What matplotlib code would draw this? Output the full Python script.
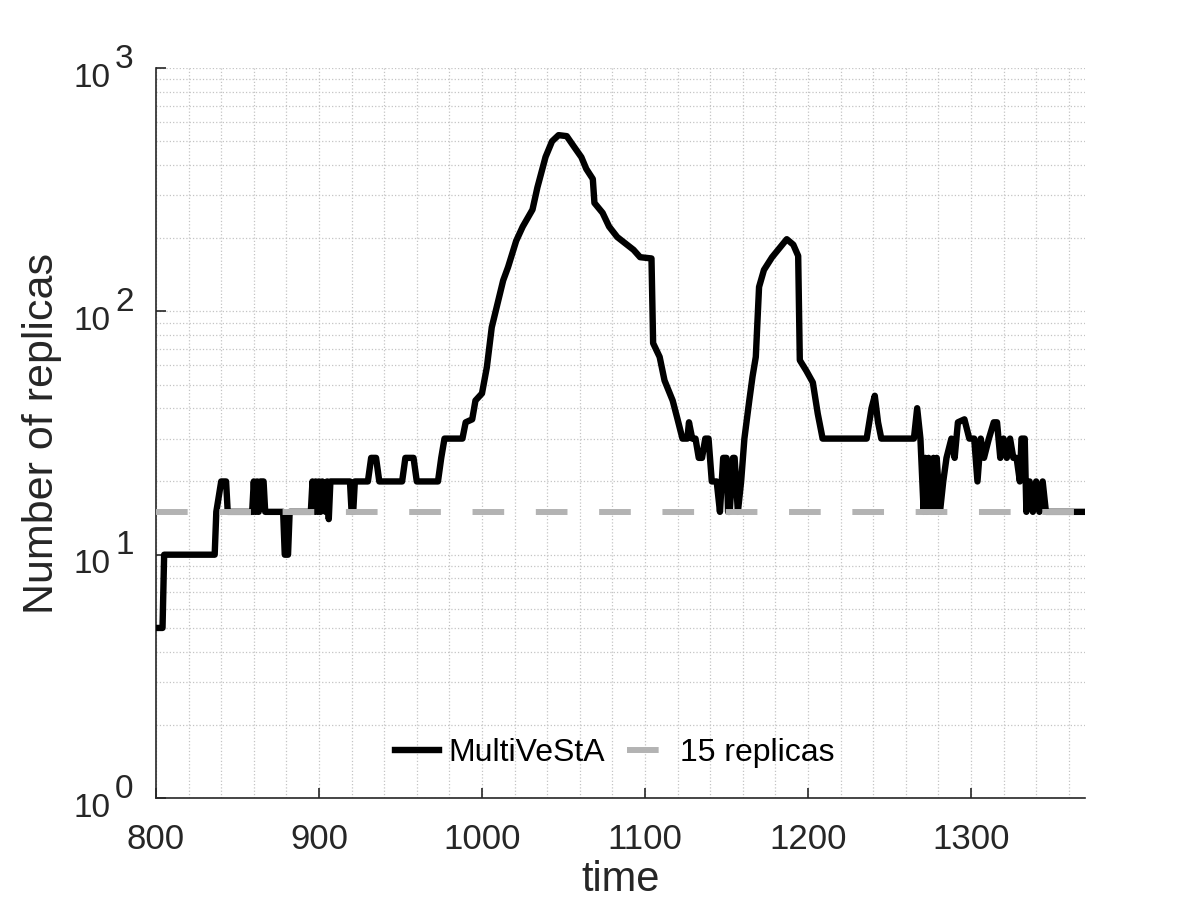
import numpy as np
import matplotlib
matplotlib.use("Agg")
import matplotlib.pyplot as plt
from matplotlib.ticker import MultipleLocator, LogLocator, NullFormatter
from matplotlib.transforms import offset_copy

plt.rcParams['font.family'] = ['Liberation Sans', 'DejaVu Sans']
text_col = '#262626'

# replicas used by MultiVeStA over time
time = [800, 804, 805, 836, 837, 840, 843, 844, 859, 860, 861, 862, 863, 864, 866, 867,
        878, 879, 881, 882, 895, 896, 897, 898, 899, 900, 901, 902, 904, 905, 906, 907,
        919, 920, 921, 922, 930, 932, 935, 937, 951, 953, 958, 960, 973, 975, 977, 988,
        990, 994, 996, 1000, 1003, 1006, 1009, 1013, 1016, 1021, 1025, 1031, 1034, 1039,
        1043, 1047, 1052, 1056, 1061, 1064, 1068, 1069, 1074, 1078, 1083, 1093, 1097, 1104,
        1105, 1109, 1112, 1117, 1120, 1123, 1126, 1127, 1129, 1131, 1133, 1135, 1137, 1139,
        1141, 1144, 1146, 1148, 1150, 1151, 1152, 1154, 1155, 1157, 1159, 1161, 1164, 1166,
        1168, 1170, 1173, 1178, 1187, 1191, 1194, 1195, 1199, 1203, 1206, 1209, 1236, 1239,
        1241, 1243, 1245, 1265, 1267, 1269, 1271, 1272, 1273, 1274, 1276, 1277, 1278, 1279,
        1281, 1283, 1285, 1288, 1290, 1292, 1296, 1299, 1302, 1304, 1306, 1308, 1311, 1314,
        1316, 1318, 1320, 1322, 1324, 1326, 1328, 1330, 1331, 1333, 1334, 1336, 1338, 1340,
        1342, 1344, 1346, 1370]
replicas = [5, 5, 10, 10, 15, 20, 20, 15, 15, 20, 15, 20, 15, 20, 20, 15,
            15, 10, 10, 15, 15, 20, 15, 20, 15, 20, 15, 20, 15, 20, 14, 20,
            20, 15, 15, 20, 20, 25, 25, 20, 20, 25, 25, 20, 20, 25, 30, 30,
            35, 36, 43, 46, 59, 86, 104, 134, 152, 195, 223, 262, 323, 431,
            500, 530, 525, 480, 430, 385, 350, 279, 254, 223, 202, 179, 167, 165,
            74, 65, 52, 43, 36, 30, 30, 35, 30, 30, 25, 25, 30, 30,
            20, 20, 15, 25, 25, 15, 15, 25, 25, 15, 20, 30, 43, 54,
            65, 126, 148, 167, 198, 188, 169, 63, 57, 51, 38, 30, 30, 40,
            45, 35, 30, 30, 40, 30, 15, 25, 15, 25, 15, 25, 15, 25,
            15, 20, 25, 30, 25, 35, 36, 30, 30, 20, 30, 25, 30, 35,
            35, 25, 30, 25, 30, 25, 25, 20, 30, 30, 15, 20, 15, 20,
            15, 20, 15, 15]
threshold = 15
x_range = [800, 1370]

fig = plt.figure(figsize=(12, 9), dpi=100)
ax = fig.add_axes([0.13, 0.1133, 0.7742, 0.8111])

ax.plot(time, replicas, color='black', linewidth=4.6, label='MultiVeStA', zorder=3)
ax.plot(x_range, [threshold, threshold], color='#b3b3b3', linewidth=4.3,
        linestyle=(0, (5.3, 5.3)), dash_capstyle='butt', label='15 replicas', zorder=4)

ax.set_yscale('log')
ax.set_xlim(x_range)
ax.set_ylim(1, 1000)
ax.xaxis.set_major_locator(MultipleLocator(100))
ax.xaxis.set_minor_locator(MultipleLocator(20))
ax.yaxis.set_major_locator(LogLocator(base=10, numticks=10))
ax.yaxis.set_minor_locator(LogLocator(base=10, subs=np.arange(2, 10), numticks=10))
ax.yaxis.set_major_formatter(NullFormatter())
ax.yaxis.set_minor_formatter(NullFormatter())

ax.grid(True, which='both', linestyle=':', linewidth=0.9, color='#c4c4c4')
ax.set_axisbelow(True)
for s in ['top', 'right']:
    ax.spines[s].set_visible(False)
for s in ['left', 'bottom']:
    ax.spines[s].set_color(text_col)
    ax.spines[s].set_linewidth(1.2)

ax.tick_params(which='major', direction='in', length=7, width=1.2, colors=text_col,
               labelsize=25, pad=18)
ax.tick_params(which='minor', length=0)
ax.tick_params(axis='y', which='major', pad=14)

# y tick labels drawn as "10" with full-size exponent
ytr = ax.get_yaxis_transform()
for e in range(0, 4):
    base_tr = offset_copy(ytr, fig=fig, x=-46, y=-10, units='dots')
    exp_tr = offset_copy(ytr, fig=fig, x=-41, y=9, units='dots')
    ax.text(0, 10 ** e, '10', transform=base_tr, ha='right', va='center',
            fontsize=24, color=text_col)
    ax.text(0, 10 ** e, str(e), transform=exp_tr, ha='left', va='center',
            fontsize=24, color=text_col)

ax.set_xlabel('time', fontsize=30, color=text_col, labelpad=3)
ax.set_ylabel('Number of replicas', fontsize=31, color=text_col, labelpad=54)

leg = ax.legend(loc='center', bbox_to_anchor=(0.494, 0.062), ncol=2, frameon=False,
                fontsize=23, handlelength=1.35, handletextpad=0.3, columnspacing=0.7)
for t in leg.get_texts():
    t.set_color('black')

fig.savefig('out.png', dpi=100)
